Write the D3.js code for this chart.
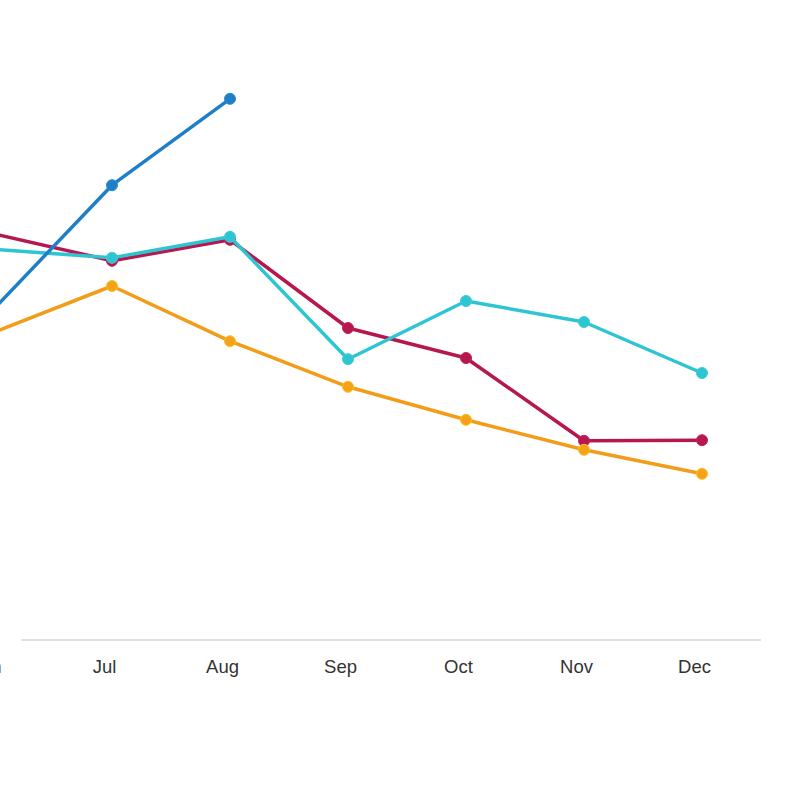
<!DOCTYPE html>
<html lang="en">
<head>
    <meta charset="UTF-8">
    <title>Monthly series</title>
    <script src="https://cdnjs.cloudflare.com/ajax/libs/d3/7.8.5/d3.min.js"></script>
    <style>
        body {
            margin: 0;
            background-color: #fff;
            font-family: "Liberation Sans", Arial, sans-serif;
        }
        svg { display: block; }
    </style>
</head>
<body>
    <div id="chart"></div>

    <script>
        // Months (the view is panned so Jun sits just off the left edge)
        const months = ["Jun", "Jul", "Aug", "Sep", "Oct", "Nov", "Dec"];

        // Series values
        const blueValues    = [55.2, 75.8, 90.2, null, null, null, null];
        const crimsonValues = [67.7, 63.2, 66.7, 52.0, 47.0, 33.2, 33.3];
        const cyanValues    = [65.1, 63.7, 67.2, 46.8, 56.5, 53.0, 44.5];
        const orangeValues  = [51.3, 59.0, 49.8, 42.2, 36.7, 31.7, 27.7];

        const series = [
            {name: "crimson", values: crimsonValues, stroke: "#b5174e", fill: "#b5174e", ring: "#c02458"},
            {name: "cyan",    values: cyanValues,    stroke: "#2ec5d2", fill: "#2ec5d2", ring: "#3fcbd6"},
            {name: "orange",  values: orangeValues,  stroke: "#f39c18", fill: "#f5a21a", ring: "#fbc21e"},
            {name: "blue",    values: blueValues,    stroke: "#1e7fc6", fill: "#1e7fc6", ring: "#2a88cc"}
        ];

        const width = 800, height = 800;
        const plot = {left: 21, right: 761, bottom: 640};

        const svg = d3.select("#chart")
            .append("svg")
                .attr("width", width)
                .attr("height", height);

        // X scale: one step per month
        const x = d3.scalePoint()
            .domain(months)
            .range([-6, 702]);

        // Y scale (no visible axis)
        const y = d3.scaleLinear()
            .domain([0, 100])
            .range([plot.bottom, 40]);

        // Baseline
        svg.append("line")
            .attr("x1", plot.left)
            .attr("x2", plot.right)
            .attr("y1", plot.bottom)
            .attr("y2", plot.bottom)
            .attr("stroke", "#d6d6d6")
            .attr("stroke-width", 1.5);

        // Month labels via axis (labels sit a little left of their points)
        const xAxis = svg.append("g")
            .attr("transform", `translate(-8,${plot.bottom})`)
            .call(d3.axisBottom(x).tickSize(0).tickPadding(20));
        xAxis.select(".domain").remove();
        xAxis.selectAll("text")
            .attr("fill", "#333")
            .style("font-family", "'Liberation Sans', Arial, sans-serif")
            .style("font-size", "18.5px");

        const line = d3.line()
            .defined(d => d != null)
            .x((d, i) => x(months[i]))
            .y(d => y(d));

        series.forEach(s => {
            const g = svg.append("g");
            g.append("path")
                .datum(s.values)
                .attr("fill", "none")
                .attr("stroke", s.stroke)
                .attr("stroke-width", 3.5)
                .attr("stroke-linejoin", "round")
                .attr("d", line);

            g.selectAll("circle")
                .data(s.values.map((v, i) => ({v, m: months[i]})).filter(d => d.v != null))
                .join("circle")
                    .attr("cx", d => x(d.m))
                    .attr("cy", d => y(d.v))
                    .attr("r", 5.5)
                    .attr("fill", s.fill)
                    .attr("stroke", s.ring)
                    .attr("stroke-width", 1);
        });
    </script>
</body>
</html>
